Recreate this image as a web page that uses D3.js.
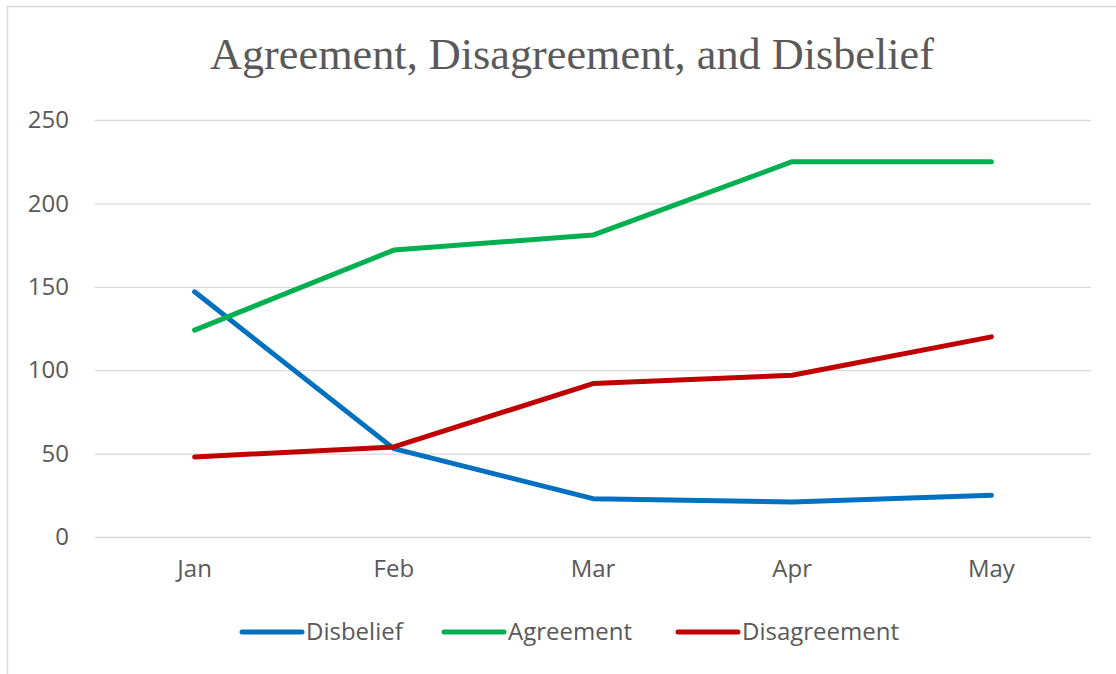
<!DOCTYPE html>
<html>
<head>
<meta charset="utf-8">
<script src="https://cdn.jsdelivr.net/npm/d3@7"></script>
<style>
  html, body { margin: 0; padding: 0; background: #fff; }
  svg { display: block; }
</style>
</head>
<body>
<svg id="chart" width="1116" height="674"></svg>
<script>
// Monthly counts per response type
const months = ["Jan", "Feb", "Mar", "Apr", "May"];
const disbelief = [147, 53, 23, 21, 25];
const agreement = [124, 172, 181, 225, 225];
const disagreement = [48, 54, 92, 97, 120];
const yTicks = [0, 50, 100, 150, 200, 250];

const series = [
  { name: "Disbelief", values: disbelief, color: "#0070C0" },
  { name: "Agreement", values: agreement, color: "#00B050" },
  { name: "Disagreement", values: disagreement, color: "#C00000" }
];

const svg = d3.select("#chart");
const W = 1116, H = 674;
const plot = { left: 95, right: 1091, top: 120, bottom: 537 };

// Chart frame
svg.append("path")
  .attr("d", `M7.5,${H} V6.5 H${W}`)
  .attr("fill", "none")
  .attr("stroke", "#d9d9d9")
  .attr("stroke-width", 1.5);

// Title
svg.append("text")
  .attr("x", 572).attr("y", 69)
  .attr("text-anchor", "middle")
  .attr("font-family", "'Liberation Serif', 'DejaVu Serif', serif")
  .attr("font-size", 45)
  .attr("fill", "#595959")
  .attr("textLength", 724)
  .attr("lengthAdjust", "spacingAndGlyphs")
  .text("Agreement, Disagreement, and Disbelief");

const x = d3.scaleBand().domain(months).range([plot.left, plot.right]);
const y = d3.scaleLinear().domain([0, 250]).range([plot.bottom, plot.top]);

const labelFont = "'Open Sans', 'Noto Sans', sans-serif";
const labelSize = 24;

// Horizontal gridlines + y labels
const yAxis = d3.axisLeft(y).tickValues(yTicks).tickSize(-(plot.right - plot.left)).tickPadding(26);
const gy = svg.append("g").attr("transform", `translate(${plot.left},0)`).call(yAxis);
gy.select(".domain").remove();
gy.selectAll(".tick line").attr("stroke", "#d9d9d9").attr("stroke-width", 1.3);
gy.selectAll(".tick text")
  .attr("font-family", labelFont).attr("font-size", labelSize).attr("fill", "#595959");

// Category labels
const xAxis = d3.axisBottom(x).tickSize(0).tickPadding(23);
const gx = svg.append("g").attr("transform", `translate(0,${plot.bottom})`).call(xAxis);
gx.select(".domain").remove();
gx.selectAll(".tick text")
  .attr("font-family", labelFont).attr("font-size", labelSize).attr("fill", "#595959");

// Series lines
const line = d3.line()
  .x((d, i) => x(months[i]) + x.bandwidth() / 2)
  .y(d => y(d));

svg.append("g").selectAll("path")
  .data(series)
  .join("path")
  .attr("d", d => line(d.values))
  .attr("fill", "none")
  .attr("stroke", d => d.color)
  .attr("stroke-width", 5)
  .attr("stroke-linecap", "round")
  .attr("stroke-linejoin", "round");

// Legend
const legendX = [242, 444, 678];
const lg = svg.append("g").selectAll("g")
  .data(series)
  .join("g")
  .attr("transform", (d, i) => `translate(${legendX[i]},632)`);
lg.append("line")
  .attr("x1", 0).attr("x2", 60)
  .attr("stroke", d => d.color)
  .attr("stroke-width", 5)
  .attr("stroke-linecap", "round");
lg.append("text")
  .attr("x", 64).attr("y", 8)
  .attr("font-family", labelFont).attr("font-size", labelSize).attr("fill", "#595959")
  .text(d => d.name);
</script>
</body>
</html>
